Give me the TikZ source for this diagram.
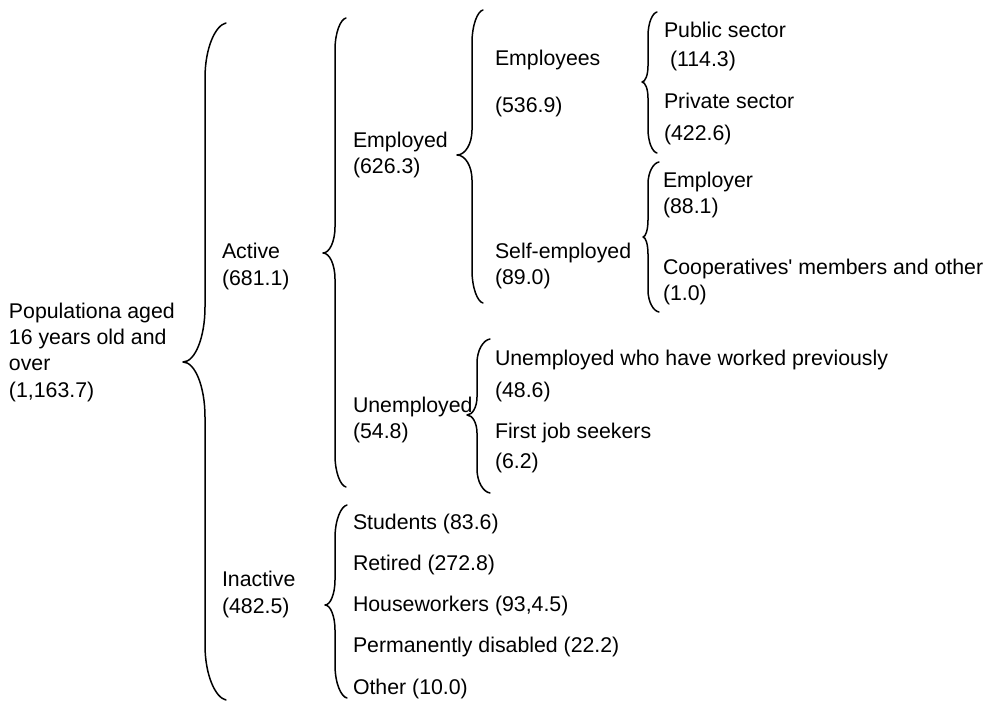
\documentclass[tikz,border=0pt]{standalone}
\usepackage{fontspec}
\setmainfont{Liberation Sans}[Ligatures=TeXOff]
\newcommand\wbrace[8]{% xe xv xc yt yc yb hend hcusp
  \draw[bracestyle] (#1,#4) .. controls ({#1-0.5*(#1-#2)},{#4+0.04*#7}) and (#2,{#4+0.45*#7}) .. (#2,{#4+#7})
    -- (#2,{#5-#8}) .. controls (#2,{#5-0.45*#8}) and ({#3+0.55*(#2-#3)},#5) .. (#3,#5)
    .. controls ({#3+0.55*(#2-#3)},#5) and (#2,{#5+0.45*#8}) .. (#2,{#5+#8})
    -- (#2,{#6-#7}) .. controls (#2,{#6-0.45*#7}) and ({#1-0.5*(#1-#2)},{#6-0.04*#7}) .. (#1,#6);}
\begin{document}
\begin{tikzpicture}[x=1pt,y=-1pt,
  bracestyle/.style={line width=1.5pt,line join=round,line cap=round},
  lbl/.style={anchor=base west,inner sep=0pt,outer sep=0pt,font=\fontsize{21.3}{26}\selectfont}]
\useasboundingbox (0,0) rectangle (988,702);
% braces
\wbrace{226}{205}{183}{23}{362}{700}{55}{55}
\wbrace{346}{335}{323}{18}{253}{487}{32}{26}
\wbrace{347}{335}{325}{505}{605}{698}{33}{25}
\wbrace{483}{472}{457}{10}{155}{303}{33}{25}
\wbrace{657}{648}{642}{12}{82}{153}{24}{16}
\wbrace{659}{648}{643}{162}{237}{312}{22}{17}
\wbrace{490}{477}{467}{339}{415}{493}{24}{18}
% texts
\node[lbl] (pop1) at (9,318) {Populationa aged};
\node[lbl] (pop2) at (9,344) {16 years old and};
\node[lbl] (pop3) at (9,370) {over};
\node[lbl] (pop4) at (9,397) {(1,163.7)};
\node[lbl] (act1) at (222,258) {Active};
\node[lbl] (act2) at (222,285) {(681.1)};
\node[lbl] (inact1) at (222,586) {Inactive};
\node[lbl] (inact2) at (222,613) {(482.5)};
\node[lbl] (emp1) at (353,147) {Employed};
\node[lbl] (emp2) at (353,173) {(626.3)};
\node[lbl] (unemp1) at (353,412) {Unemployed};
\node[lbl] (unemp2) at (353,438) {(54.8)};
\node[lbl] (ees1) at (495,65) {Employees};
\node[lbl] (ees2) at (495,112) {(536.9)};
\node[lbl] (se1) at (495,258) {Self-employed};
\node[lbl] (se2) at (495,284) {(89.0)};
\node[lbl] (pub1) at (664,37) {Public sector};
\node[lbl] (pub2) at (670,66) {(114.3)};
\node[lbl] (priv1) at (664,108) {Private sector};
\node[lbl] (priv2) at (664,140) {(422.6)};
\node[lbl] (empr1) at (663,187) {Employer};
\node[lbl] (empr2) at (663,213) {(88.1)};
\node[lbl] (coop1) at (663,274) {Cooperatives' members and other};
\node[lbl] (coop2) at (663,300) {(1.0)};
\node[lbl] (uwp1) at (495,365) {Unemployed who have worked previously};
\node[lbl] (uwp2) at (495,397) {(48.6)};
\node[lbl] (fjs1) at (495,438) {First job seekers};
\node[lbl] (fjs2) at (495,468) {(6.2)};
\node[lbl] (stud) at (353,529) {Students (83.6)};
\node[lbl] (ret) at (353,570) {Retired (272.8)};
\node[lbl] (hw) at (353,611) {Houseworkers (93,4.5)};
\node[lbl] (pd) at (353,652) {Permanently disabled (22.2)};
\node[lbl] (oth) at (353,694) {Other (10.0)};
\end{tikzpicture}
\end{document}
